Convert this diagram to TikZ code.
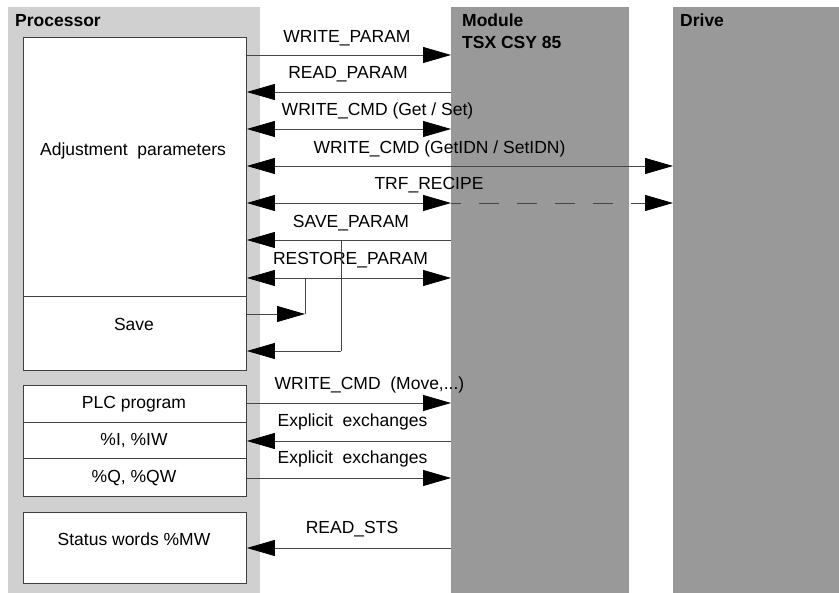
\documentclass[tikz,border=0pt]{standalone}
\usepackage{fontspec}
\setmainfont{Liberation Sans}
\usetikzlibrary{arrows.meta}
\definecolor{lightpanel}{RGB}{208,208,208}
\definecolor{darkpanel}{RGB}{153,153,153}
\definecolor{boxline}{RGB}{64,64,64}
\definecolor{conline}{RGB}{70,70,70}
\begin{document}
\begin{tikzpicture}[x=1pt,y=-1pt,
  panel/.style={draw=none,inner sep=0pt,anchor=north west},
  box/.style={draw=boxline,line width=0.9pt,fill=white,inner sep=0pt,anchor=north west},
  txt/.style={inner sep=0pt,anchor=base,font=\fontsize{17.5}{20}\selectfont},
  ttl/.style={inner sep=0pt,anchor=base west,font=\fontsize{17.5}{20}\selectfont\bfseries},
  con/.style={draw=conline,line width=0.8pt},
  tipR/.style={-{Triangle[length=28pt,width=16pt,color=black]}},
  tipL/.style={{Triangle[length=28pt,width=16pt,color=black]}-},
  tipB/.style={{Triangle[length=28pt,width=16pt,color=black]}-{Triangle[length=28pt,width=16pt,color=black]}}
]
\useasboundingbox (0,0) rectangle (839,593);
\fill[white] (0,0) rectangle (839,593);
% panels
\node[panel,fill=lightpanel,minimum width=252pt,minimum height=586pt] (proc) at (8,7) {};
\node[panel,fill=darkpanel,minimum width=178pt,minimum height=586pt] (module) at (451,7) {};
\node[panel,fill=darkpanel,minimum width=166pt,minimum height=586pt] (drive) at (673,7) {};
\node[ttl] (proctitle) at (15,27) {Processor};
\node[ttl] (modtitle) at (462,27) {Module};
\node[ttl] (modtitle2) at (462,48.5) {TSX CSY 85};
\node[ttl] (drivetitle) at (680,27) {Drive};
% boxes
\node[box,minimum width=223pt,minimum height=259pt] (adj) at (23,37) {};
\node[box,minimum width=223pt,minimum height=74pt] (save) at (23,296) {};
\node[box,minimum width=223pt,minimum height=37pt] (plc) at (23,385) {};
\node[box,minimum width=223pt,minimum height=36pt] (iw) at (23,422) {};
\node[box,minimum width=223pt,minimum height=38pt] (qw) at (23,458) {};
\node[box,minimum width=223pt,minimum height=71pt] (sts) at (23,512) {};
\node[txt] (adjt) at (133,156) {Adjustment\ \ parameters};
\node[txt] (savet) at (134,331) {Save};
\node[txt] (plct) at (134,408.5) {PLC program};
\node[txt] (iwt) at (134,446) {\%I, \%IW};
\node[txt] (qwt) at (134,483) {\%Q, \%QW};
\node[txt] (stst) at (134,546) {Status words \%MW};
% labels
\node[txt] (l1) at (347,42.7) {WRITE\_PARAM};
\node[txt] (l2) at (348,78.7) {READ\_PARAM};
\node[txt] (l3) at (377.5,116) {WRITE\_CMD (Get / Set)};
\node[txt] (l4) at (439.5,154) {WRITE\_CMD (GetIDN / SetIDN)};
\node[txt] (l5) at (429,189.5) {TRF\_RECIPE};
\node[txt] (l6) at (351,227.7) {SAVE\_PARAM};
\node[txt] (l7) at (350.5,265) {RESTORE\_PARAM};
\node[txt] (l8) at (369.5,390) {WRITE\_CMD\ \ (Move,...)};
\node[txt] (l9) at (352.5,426.5) {Explicit\ \ exchanges};
\node[txt] (l10) at (352.5,464) {Explicit\ \ exchanges};
\node[txt] (l11) at (352,534) {READ\_STS};
% connectors
\draw[con,tipR] (adj.east |- 0,55) -- (module.west |- 0,55);
\draw[con,tipL] (adj.east |- 0,92) -- (module.west |- 0,92);
\draw[con,tipB] (adj.east |- 0,129) -- (module.west |- 0,129);
\draw[con,tipB] (adj.east |- 0,166) -- (drive.west |- 0,166);
\draw[con,tipB] (adj.east |- 0,203) -- (module.west |- 0,203);
\draw[con,tipR,dash pattern=on 20pt off 18pt,dash phase=10pt] (module.west |- 0,203) -- (drive.west |- 0,203);
\coordinate (sp) at (341,240);
\coordinate (rp) at (305,278);
\draw[con,tipL] (adj.east |- 0,240) -- (module.west |- 0,240);
\draw[con] (sp) -- (sp |- 0,351);
\draw[con,tipL] (save.east |- 0,351) -- (sp |- 0,351);
\draw[con,tipB] (adj.east |- 0,278) -- (module.west |- 0,278);
\draw[con] (rp) -- (rp |- 0,314);
\draw[con,tipR] (save.east |- 0,314) -- (rp |- 0,314);
\draw[con,tipR] (plc.east |- 0,403) -- (module.west |- 0,403);
\draw[con,tipL] (iw.east |- 0,441) -- (module.west |- 0,441);
\draw[con,tipR] (qw.east |- 0,478) -- (module.west |- 0,478);
\draw[con,tipL] (sts.east |- 0,548) -- (module.west |- 0,548);
\end{tikzpicture}
\end{document}
